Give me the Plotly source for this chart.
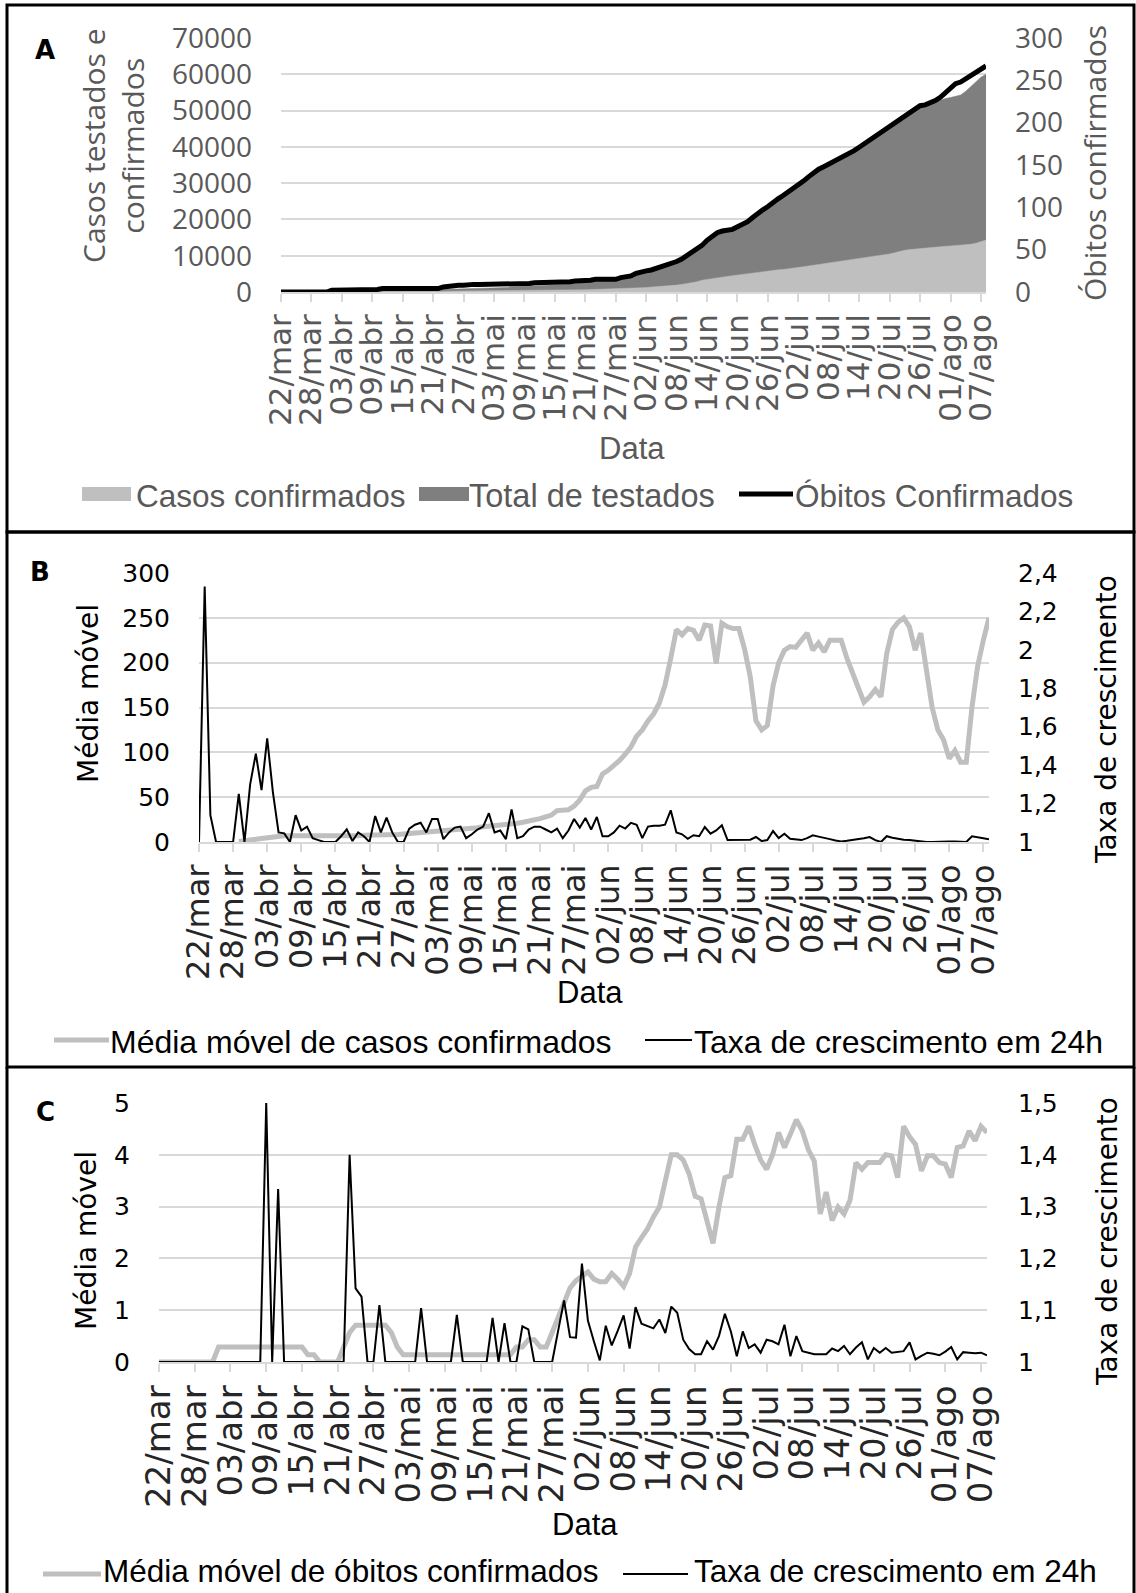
import plotly.graph_objects as go
import pandas as pd

# ---------------- DATA ----------------
dates = pd.date_range("2020-03-22", periods=140, freq="D")
tick_labels = ["22/mar", "28/mar", "03/abr", "09/abr", "15/abr", "21/abr", "27/abr",
               "03/mai", "09/mai", "15/mai", "21/mai", "27/mai", "02/jun", "08/jun",
               "14/jun", "20/jun", "26/jun", "02/jul", "08/jul", "14/jul", "20/jul",
               "26/jul", "01/ago", "07/ago"]

# Panel A
casos_confirmados = [
    10, 12, 15, 18, 20, 25, 30, 35, 40, 45,
    55, 65, 80, 95, 105, 110, 115, 125, 130, 140,
    145, 150, 155, 160, 165, 170, 180, 185, 190, 200,
    205, 215, 220, 230, 240, 245, 250, 260, 270, 280,
    290, 300, 315, 330, 345, 355, 370, 385, 400, 415,
    430, 450, 470, 490, 505, 525, 545, 565, 590, 615,
    640, 670, 700, 735, 770, 800, 850, 900, 960, 1020,
    1080, 1160, 1240, 1320, 1410, 1510, 1620, 1750, 1900, 2100,
    2300, 2500, 2800, 3250, 3500, 3700, 3900, 4100, 4300, 4500,
    4700, 4900, 5100, 5300, 5500, 5700, 5850, 5950, 6100, 6230,
    6360, 6530, 6730, 6950, 7170, 7390, 7600, 7830, 8050, 8270,
    8480, 8700, 8930, 9150, 9360, 9550, 9720, 9880, 10040, 10210,
    10500, 10800, 11200, 11500, 11700, 11850, 12000, 12150, 12250, 12350,
    12480, 12590, 12690, 12790, 12880, 12970, 13150, 13450, 13850, 14300]

total_testados = [
    30, 40, 50, 60, 70, 80, 90, 100, 110, 120,
    140, 160, 180, 200, 220, 240, 260, 280, 300, 320,
    340, 360, 380, 400, 420, 450, 480, 510, 540, 570,
    600, 640, 680, 720, 760, 800, 840, 880, 930, 980,
    1030, 1080, 1130, 1190, 1250, 1310, 1370, 1440, 1510, 1580,
    1650, 1730, 1810, 1890, 1980, 2070, 2160, 2260, 2370, 2480,
    2600, 2730, 2870, 3020, 3180, 3350, 3600, 3900, 4300, 4700,
    5300, 5700, 6000, 6200, 6600, 7000, 7200, 7700, 8300, 9000,
    9900, 10900, 11600, 12800, 14100, 15300, 16200, 16700, 16900, 17200,
    17900, 18500, 19300, 20400, 21600, 22500, 23400, 24600, 25500, 26400,
    27400, 28300, 29200, 30400, 31600, 32700, 33700, 34300, 35000, 35700,
    36400, 37100, 37800, 38700, 39700, 40600, 41500, 42400, 43400, 44300,
    45200, 46100, 47100, 48000, 48900, 50100, 51000, 51500, 52000, 52500,
    53000, 53300, 53600, 53900, 54300, 55300, 56600, 57900, 59200, 60000]

obitos_confirmados = [
    0, 0, 0, 0, 0, 0, 0, 0, 0, 0,
    2, 2, 2, 2, 2, 2, 2, 2, 3, 3,
    4, 4, 4, 4, 4, 4, 4, 4, 4, 4,
    4, 4, 6, 7, 8, 8, 8, 9, 9, 9,
    9, 9, 9, 9, 10, 10, 10, 10, 10, 10,
    11, 11, 11, 11, 11, 11, 12, 12, 13, 13,
    13, 14, 15, 15, 15, 15, 15, 17, 18, 19,
    22, 24, 25, 26, 28, 30, 31, 33, 36, 39,
    43, 47, 50, 55, 61, 66, 70, 72, 73, 74,
    77, 80, 83, 88, 93, 97, 101, 106, 110, 114,
    118, 122, 126, 131, 136, 141, 145, 148, 151, 154,
    157, 160, 163, 167, 171, 175, 179, 183, 187, 191,
    195, 199, 203, 207, 211, 216, 220, 221, 223, 226,
    230, 235, 240, 246, 248, 252, 256, 260, 264, 267]

# Panel B
media_movel_casos = [
    None, None, None, None, None, None, None, 0.5, 1, 2,
    3, 4, 5, 6, 6.5, 7, 7, 7, 7, 7,
    6.5, 6, 6, 6, 6, 6.5, 7, 7, 7, 7.5,
    7.5, 7.5, 8, 8, 8.5, 8.5, 9, 9.5, 10, 10,
    10.5, 11, 11.5, 12, 12.5, 13, 14, 14.5, 15, 16,
    17, 17.5, 18, 19, 19.5, 20, 21, 22, 23, 25,
    26, 28, 30, 35, 36, 36, 40, 47, 57, 61,
    62, 76, 80, 85, 91, 98, 106, 118, 125, 135,
    143, 155, 175, 205, 237, 231, 238, 236, 225, 242,
    241, 199, 244, 240, 238, 238, 215, 184, 135, 125,
    130, 174, 200, 214, 218, 217, 225, 233, 214, 222,
    212, 225, 225, 225, 205, 190, 172, 156, 162, 170,
    162, 210, 237, 245, 250, 240, 214, 233, 195, 150,
    125, 114, 93, 102, 89, 89, 150, 196, 225, 250]

taxa_casos = [
    1.00, 2.33, 1.14, 1.00, 1.00, 1.00, 1.00, 1.25, 1.00, 1.30,
    1.46, 1.27, 1.54, 1.26, 1.05, 1.045, 1.00, 1.14, 1.06, 1.08,
    1.02, 1.01, 1.00, 1.00, 1.00, 1.03, 1.066, 1.005, 1.05, 1.03,
    1.00, 1.135, 1.05, 1.127, 1.05, 1.00, 1.00, 1.07, 1.09, 1.10,
    1.05, 1.12, 1.12, 1.015, 1.05, 1.075, 1.08, 1.02, 1.04, 1.065,
    1.08, 1.15, 1.05, 1.06, 1.015, 1.17, 1.02, 1.03, 1.065, 1.08,
    1.08, 1.065, 1.05, 1.07, 1.02, 1.06, 1.12, 1.075, 1.125, 1.065,
    1.13, 1.03, 1.03, 1.05, 1.085, 1.07, 1.10, 1.09, 1.02, 1.08,
    1.085, 1.085, 1.09, 1.165, 1.05, 1.04, 1.017, 1.035, 1.03, 1.078,
    1.043, 1.06, 1.087, 1.01, 1.01, 1.01, 1.012, 1.012, 1.026, 1.005,
    1.01, 1.057, 1.02, 1.043, 1.017, 1.012, 1.01, 1.02, 1.035, 1.028,
    1.02, 1.015, 1.008, 1.003, 1.006, 1.01, 1.015, 1.02, 1.026, 1.01,
    1.00, 1.03, 1.022, 1.016, 1.012, 1.01, 1.006, 1.005, 1.00, 1.00,
    1.002, 1.003, 1.003, 1.003, 1.002, 1.00, 1.03, 1.026, 1.02, 1.014]

# Panel C
media_movel_obitos = [
    0, 0, 0, 0, 0, 0, 0, 0, 0, 0,
    0.29, 0.29, 0.29, 0.29, 0.29, 0.29, 0.29, 0.29, 0.29, 0.29,
    0.29, 0.29, 0.29, 0.29, 0.29, 0.14, 0.14, 0, 0, 0,
    0, 0.29, 0.57, 0.71, 0.71, 0.71, 0.71, 0.71, 0.71, 0.57,
    0.29, 0.14, 0.14, 0.14, 0.14, 0.14, 0.14, 0.14, 0.14, 0.14,
    0.14, 0.14, 0.14, 0.14, 0.14, 0.14, 0.14, 0.14, 0.14, 0.14,
    0.29, 0.29, 0.43, 0.43, 0.29, 0.29, 0.57, 0.86, 1.14, 1.43,
    1.57, 1.65, 1.74, 1.6, 1.55, 1.55, 1.71, 1.6, 1.46, 1.71,
    2.22, 2.4, 2.57, 2.8, 2.99, 3.5, 4.0, 4.0, 3.9, 3.63,
    3.2, 3.15, 2.7, 2.29, 2.99, 3.56, 3.6, 4.3, 4.3, 4.55,
    4.2, 3.9, 3.72, 4.0, 4.43, 4.14, 4.4, 4.68, 4.46, 4.1,
    3.88, 2.86, 3.28, 2.73, 2.99, 2.86, 3.12, 3.85, 3.72, 3.85,
    3.85, 3.85, 4.0, 3.98, 3.56, 4.55, 4.35, 4.2, 3.69, 3.98,
    3.98, 3.85, 3.82, 3.56, 4.14, 4.17, 4.46, 4.27, 4.55, 4.43]

taxa_obitos = [
    1, 1, 1, 1, 1, 1, 1, 1, 1, 1,
    1, 1, 1, 1, 1, 1, 1, 1, 1.5, 1,
    1.334, 1, 1, 1, 1, 1, 1, 1, 1, 1,
    1, 1, 1.4, 1.142, 1.126, 1, 1, 1.11, 1, 1,
    1, 1, 1, 1, 1.104, 1, 1, 1, 1, 1,
    1.091, 1, 1, 1, 1, 1, 1.085, 1, 1.075, 1,
    1, 1.069, 1.063, 1, 1, 1, 1.0, 1.06, 1.119, 1.048,
    1.047, 1.19, 1.08, 1.04, 1.003, 1.07, 1.032, 1.06, 1.09, 1.026,
    1.106, 1.074, 1.07, 1.065, 1.082, 1.056, 1.107, 1.095, 1.043, 1.025,
    1.015, 1.015, 1.04, 1.024, 1.05, 1.093, 1.059, 1.011, 1.059, 1.027,
    1.034, 1.018, 1.043, 1.04, 1.034, 1.072, 1.011, 1.05, 1.021, 1.018,
    1.015, 1.015, 1.015, 1.026, 1.021, 1.031, 1.015, 1.028, 1.038, 1.005,
    1.027, 1.018, 1.027, 1.018, 1.02, 1.021, 1.038, 1.005, 1.012, 1.018,
    1.016, 1.013, 1.02, 1.029, 1.005, 1.019, 1.018, 1.017, 1.018, 1.013]

b_right_vals = [1.0, 1.2, 1.4, 1.6, 1.8, 2.0, 2.2, 2.4]
b_right_text = ["1", "1,2", "1,4", "1,6", "1,8", "2", "2,2", "2,4"]
c_right_vals = [1.0, 1.1, 1.2, 1.3, 1.4, 1.5]
c_right_text = ["1", "1,1", "1,2", "1,3", "1,4", "1,5"]

# ---------------- LAYOUT HELPERS ----------------
W, H = 1136, 1593


def fx(p):
    return p / W


def fy(p):
    return 1 - p / H


GRID = "#d9d9d9"
GRAY_TXT = "#595959"
LIGHT = "#bfbfbf"
DARK = "#7f7f7f"
tick_dates = list(dates[::6])

fig = go.Figure()

# Panel A
fig.add_trace(go.Scatter(x=dates, y=total_testados, name="Total de testados",
                         mode="lines", line=dict(width=0.5, color=DARK),
                         fill="tozeroy", fillcolor=DARK, xaxis="x", yaxis="y"))
fig.add_trace(go.Scatter(x=dates, y=casos_confirmados, name="Casos confirmados",
                         mode="lines", line=dict(width=0.5, color=LIGHT),
                         fill="tozeroy", fillcolor=LIGHT, xaxis="x", yaxis="y"))
fig.add_trace(go.Scatter(x=dates, y=obitos_confirmados, name="Óbitos Confirmados",
                         mode="lines", line=dict(width=5, color="black"),
                         xaxis="x", yaxis="y2"))

# Panel B
fig.add_trace(go.Scatter(x=dates, y=media_movel_casos, name="Média móvel de casos confirmados",
                         mode="lines", line=dict(width=5, color=LIGHT),
                         xaxis="x2", yaxis="y3"))
fig.add_trace(go.Scatter(x=dates, y=taxa_casos, name="Taxa de crescimento em 24h",
                         mode="lines", line=dict(width=2, color="black"),
                         xaxis="x2", yaxis="y4"))

# Panel C
fig.add_trace(go.Scatter(x=dates, y=media_movel_obitos, name="Média móvel de óbitos confirmados",
                         mode="lines", line=dict(width=5, color=LIGHT),
                         xaxis="x3", yaxis="y5"))
fig.add_trace(go.Scatter(x=dates, y=taxa_obitos, name="Taxa de crescimento em 24h",
                         mode="lines", line=dict(width=2, color="black"),
                         xaxis="x3", yaxis="y6"))


def xaxis_cfg(x0, x1, anchor, color, size):
    return dict(domain=[fx(x0), fx(x1)], anchor=anchor, automargin=False,
                range=[dates[0], dates[-1]], tickmode="array",
                tickvals=tick_dates, ticktext=tick_labels, tickangle=-90,
                tickfont=dict(family="DejaVu Sans", size=size, color=color),
                ticks="outside", ticklen=8, tickwidth=1.5, tickcolor=GRID,
                showline=True, linecolor=GRID, linewidth=1.5, showgrid=False,
                zeroline=False, fixedrange=True)


def yaxis_cfg(y0, y1, anchor, rng, font, standoff, grid=True, **kw):
    d = dict(domain=[fy(y0), fy(y1)], anchor=anchor, automargin=False, range=rng,
             tickfont=font, ticks="", showline=False, zeroline=False,
             showgrid=grid, gridcolor=GRID, gridwidth=1.5,
             ticklabelstandoff=standoff, fixedrange=True)
    d.update(kw)
    return d


fontA = dict(family="Open Sans", size=28, color=GRAY_TXT)
fontBC = dict(family="DejaVu Sans", size=25, color="black")

fig.update_layout(
    width=W, height=H, autosize=False, template="none",
    margin=dict(l=0, r=0, t=0, b=0, pad=0),
    paper_bgcolor="white", plot_bgcolor="rgba(0,0,0,0)",
    showlegend=False,
    xaxis=xaxis_cfg(281, 986, "y", GRAY_TXT, 31),
    yaxis=yaxis_cfg(292, 38, "x", [0, 70000], fontA, 28, dtick=10000, tickformat="d"),
    yaxis2=yaxis_cfg(292, 38, "x", [0, 300], fontA, 28, grid=False, dtick=50,
                     overlaying="y", side="right"),
    xaxis2=xaxis_cfg(199, 989, "y3", "#262626", 32),
    yaxis3=yaxis_cfg(842, 573, "x2", [0, 300], fontBC, 28, dtick=50),
    yaxis4=yaxis_cfg(842, 573, "x2", [1, 2.4], fontBC, 28, grid=False,
                     tickmode="array", tickvals=b_right_vals, ticktext=b_right_text,
                     overlaying="y3", side="right"),
    xaxis3=xaxis_cfg(159, 987, "y5", "#262626", 34),
    yaxis5=yaxis_cfg(1362, 1103, "x3", [0, 5], fontBC, 28, dtick=1),
    yaxis6=yaxis_cfg(1362, 1103, "x3", [1, 1.5], fontBC, 30, grid=False,
                     tickmode="array", tickvals=c_right_vals, ticktext=c_right_text,
                     overlaying="y5", side="right"),
)

annotations = []
shapes = []


def ann(text, x, y, size, family, color, angle=0, bold=False, xanchor="center"):
    annotations.append(dict(text=("<b>%s</b>" % text) if bold else text,
                            x=fx(x), y=fy(y), xref="paper", yref="paper",
                            showarrow=False, textangle=angle,
                            xanchor=xanchor, yanchor="middle",
                            font=dict(family=family, size=size, color=color)))


ann("A", 45, 50, 26, "DejaVu Sans", "black", bold=True)
ann("B", 40, 572, 26, "DejaVu Sans", "black", bold=True)
ann("C", 45, 1112, 26, "DejaVu Sans", "black", bold=True)
ann("Casos testados e<br>confirmados", 113, 146, 30, "Open Sans", GRAY_TXT, angle=-90)
ann("Óbitos confirmados", 1095, 163, 30, "Open Sans", GRAY_TXT, angle=-90)
ann("Data", 632, 448, 31, "Liberation Sans", GRAY_TXT)
ann("Média móvel", 88, 694, 28, "DejaVu Sans", "black", angle=-90)
ann("Taxa de crescimento", 1106, 720, 28, "DejaVu Sans", "black", angle=-90)
ann("Data", 590, 993, 31, "Liberation Sans", "black")
ann("Média móvel", 86, 1241, 28, "DejaVu Sans", "black", angle=-90)
ann("Taxa de crescimento", 1107, 1242, 28, "DejaVu Sans", "black", angle=-90)
ann("Data", 585, 1524, 31, "Liberation Sans", "black")


# ---- legends drawn as symbols + text ----
def leg_patch(x0, x1, yc, color, label, tx, size, tcolor):
    shapes.append(dict(type="rect", xref="paper", yref="paper",
                       x0=fx(x0), x1=fx(x1), y0=fy(yc + 7), y1=fy(yc - 7),
                       fillcolor=color, line=dict(width=0)))
    ann(label, tx, yc + 2, size, "Liberation Sans", tcolor, xanchor="left")


def leg_line(x0, x1, yc, color, width, label, tx, size, tcolor, ty=None):
    shapes.append(dict(type="line", xref="paper", yref="paper",
                       x0=fx(x0), x1=fx(x1), y0=fy(yc), y1=fy(yc),
                       line=dict(color=color, width=width)))
    ann(label, tx, (yc + 2) if ty is None else ty, size, "Liberation Sans", tcolor,
        xanchor="left")


leg_patch(82, 131, 494, LIGHT, "Casos confirmados", 134, 31.5, GRAY_TXT)
leg_patch(419, 469, 494, DARK, "Total de testados", 467, 32.5, GRAY_TXT)
leg_line(739, 793, 494, "black", 5, "Óbitos Confirmados", 793, 31.5, GRAY_TXT)

leg_line(54, 109, 1040, LIGHT, 5, "Média móvel de casos confirmados", 108, 32, "black")
leg_line(645, 692, 1040, "black", 2, "Taxa de crescimento em 24h", 692, 32, "black")

leg_line(43, 101, 1574, LIGHT, 5, "Média móvel de óbitos confirmados", 101, 31.5, "black",
         ty=1571)
leg_line(623, 688, 1574, "black", 2, "Taxa de crescimento em 24h", 692, 31.5, "black",
         ty=1571)

fig.update_layout(annotations=annotations)

# panel frames
for (top, bot) in [(5, 532), (532, 1067)]:
    shapes.append(dict(type="rect", xref="paper", yref="paper",
                       x0=fx(7), x1=fx(1134), y0=fy(bot), y1=fy(top),
                       line=dict(color="black", width=3), fillcolor="rgba(0,0,0,0)",
                       layer="above"))
for (xa, xb) in [(7, 7), (1134, 1134)]:
    shapes.append(dict(type="line", xref="paper", yref="paper",
                       x0=fx(xa), x1=fx(xb), y0=fy(1067), y1=0,
                       line=dict(color="black", width=3), layer="above"))

fig.update_layout(shapes=shapes)

fig.write_html("out.html")
